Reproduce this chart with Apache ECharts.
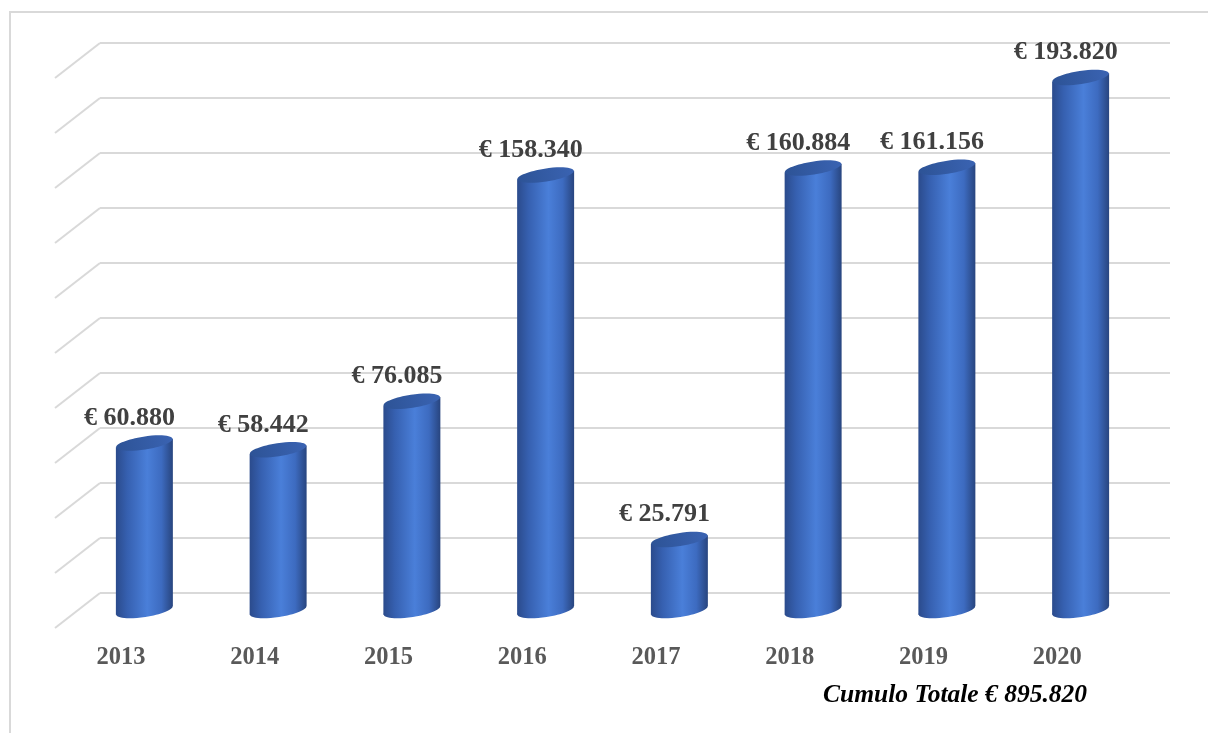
<!DOCTYPE html>
<html>
<head>
<meta charset="utf-8">
<script src="https://cdn.jsdelivr.net/npm/echarts@6/dist/echarts.min.js"></script>
<style>
  html, body { margin: 0; padding: 0; background: #fff; }
  #main { width: 1208px; height: 733px; }
</style>
</head>
<body>
<div id="main"></div>
<script>
  // dati
  var years = ['2013', '2014', '2015', '2016', '2017', '2018', '2019', '2020'];
  var amounts = [60880, 58442, 76085, 158340, 25791, 160884, 161156, 193820];
  var yTicks = [0, 20000, 40000, 60000, 80000, 100000, 120000, 140000, 160000, 180000, 200000];
  var totalText = 'Cumulo Totale € 895.820';

  // profondità prospettica (parete di fondo -> fronte)
  var DX = -45, DY = 35;

  function euro(v) {
    return '€ ' + String(v).replace(/\B(?=(\d{3})+(?!\d))/g, '.');
  }

  var chart = echarts.init(document.getElementById('main'));

  function renderGridSide(params, api) {
    var p = api.coord([0, api.value(0)]);
    var band = api.size([1, 0])[0];
    var x0 = p[0] - band / 2;
    return {
      type: 'line',
      shape: { x1: x0, y1: p[1], x2: x0 + DX, y2: p[1] + DY },
      style: { stroke: '#d9d9d9', lineWidth: 2 }
    };
  }

  function renderCylinder(params, api) {
    var top = api.coord([api.value(0), api.value(1)]);
    var base = api.coord([api.value(0), 0]);
    var band = api.size([1, 0])[0];
    var cx = top[0] + DX / 2;
    var ty = top[1] + DY / 2;
    var by = base[1] + DY / 2;
    var rx = band * 0.213, ry = 6.5, rot = 0.15;
    var tilt = rx * Math.sin(rot);
    var bodyFill = new echarts.graphic.LinearGradient(0, 0, 1, 0, [
      { offset: 0, color: '#2b4b8c' },
      { offset: 0.2, color: '#3660b0' },
      { offset: 0.55, color: '#4a7fd9' },
      { offset: 0.8, color: '#3d6bc0' },
      { offset: 1, color: '#28457f' }
    ]);
    var topFill = new echarts.graphic.LinearGradient(0, 0, 1, 0, [
      { offset: 0, color: '#2d5396' },
      { offset: 1, color: '#3a63b2' }
    ]);
    return {
      type: 'group',
      children: [
        {
          type: 'ellipse',
          shape: { cx: cx, cy: by, rx: rx, ry: ry },
          rotation: rot, originX: cx, originY: by,
          style: { fill: bodyFill }
        },
        {
          type: 'polygon',
          shape: {
            points: [
              [cx - rx, ty + tilt], [cx + rx, ty - tilt],
              [cx + rx, by - tilt], [cx - rx, by + tilt]
            ]
          },
          style: { fill: bodyFill }
        },
        {
          type: 'ellipse',
          shape: { cx: cx, cy: ty, rx: rx, ry: ry },
          rotation: rot, originX: cx, originY: ty,
          style: { fill: topFill }
        },
        {
          type: 'text',
          style: {
            text: euro(api.value(1)),
            x: cx - 15, y: ty - 25,
            align: 'center', verticalAlign: 'middle',
            font: 'bold 26px "Liberation Serif"',
            fill: '#404040'
          }
        }
      ]
    };
  }

  var option = {
    animation: false,
    backgroundColor: '#ffffff',
    grid: { left: 100, right: 38, top: 43, bottom: 140 },
    xAxis: {
      type: 'category',
      data: years,
      axisLine: { show: false },
      axisTick: { show: false },
      axisLabel: {
        margin: 52,
        padding: [0, 92, 0, 0],
        fontFamily: 'Liberation Serif',
        fontWeight: 'bold',
        fontSize: 24.5,
        color: '#595959'
      }
    },
    yAxis: {
      type: 'value',
      min: 0,
      max: 200000,
      interval: 20000,
      axisLabel: { show: false },
      axisLine: { show: false },
      axisTick: { show: false },
      splitLine: { lineStyle: { color: '#d9d9d9', width: 2 } }
    },
    graphic: [
      {
        type: 'polyline',
        shape: { points: [[10, 733], [10, 12], [1208, 12]] },
        style: { stroke: '#d9d9d9', lineWidth: 2, fill: null }
      },
      {
        type: 'text',
        x: 955, y: 695,
        style: {
          text: totalText,
          align: 'center', verticalAlign: 'middle',
          font: 'italic bold 25.5px "Liberation Serif"',
          fill: '#000000'
        }
      }
    ],
    series: [
      {
        type: 'custom',
        renderItem: renderGridSide,
        data: yTicks.map(function (v) { return [v]; }),
        encode: { y: 0 },
        silent: true,
        z: 1
      },
      {
        type: 'custom',
        renderItem: renderCylinder,
        data: amounts.map(function (v, i) { return [i, v]; }),
        encode: { x: 0, y: 1 },
        z: 3
      }
    ]
  };

  chart.setOption(option);
</script>
</body>
</html>
